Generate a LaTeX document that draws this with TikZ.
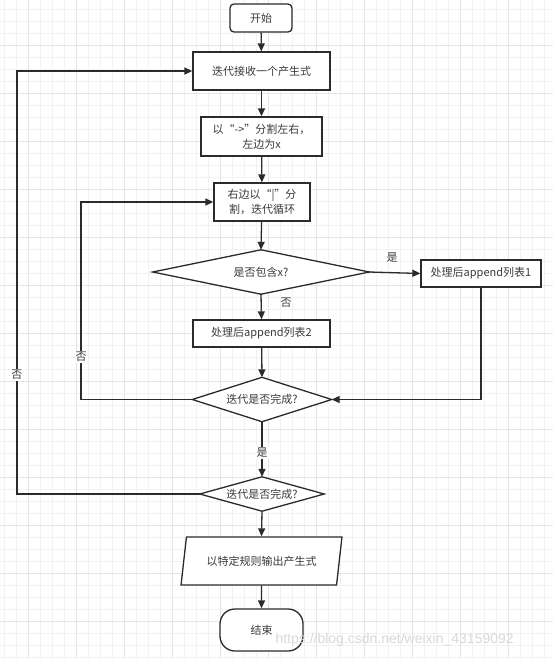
\documentclass[tikz,border=0pt]{standalone}
\usepackage{fontspec}
\setmainfont{Noto Sans CJK SC}
\newfontfamily\wmfont{Liberation Sans}
\usetikzlibrary{shapes.geometric,arrows.meta}
\definecolor{ln}{HTML}{2B2B2B}
\definecolor{tx}{HTML}{3A3A3A}
\begin{document}
\begin{tikzpicture}[x=1pt,y=-1pt,
  every node/.style={font=\fontsize{11}{15}\selectfont, text=tx},
  base/.style={draw=ln, line width=1.3pt, fill=white, inner sep=2pt, align=center},
  boxn/.style={base, rectangle},
  roundn/.style={base, rectangle, rounded corners=#1},
  dec/.style={rectangle, inner sep=0pt, align=center},
  decline/.style={draw=ln, line width=1.3pt, fill=white, line join=miter},
  conn/.style={draw=ln, line width=1.3pt, -{Triangle[length=8pt,width=7pt]}},
  lab/.style={fill=white, inner sep=1pt}]
\useasboundingbox (0,0) rectangle (553,659);
\fill[white] (0,0) rectangle (553,659);
% grid
\foreach \i in {0,12,...,553} \draw[gray!10, line width=0.5pt] (\i+4,0) -- (\i+4,659);
\foreach \j in {0,12,...,659} \draw[gray!10, line width=0.5pt] (0,\j+9) -- (553,\j+9);
\foreach \i in {0,48,...,553} \draw[gray!20, line width=0.6pt] (\i+28,0) -- (\i+28,659);
\foreach \j in {0,48,...,659} \draw[gray!20, line width=0.6pt] (0,\j+45) -- (553,\j+45);

\node[roundn=4pt, minimum width=62pt, minimum height=28pt] (start) at (261,18) {开始};
\node[boxn, minimum width=137pt, minimum height=38pt] (recv) at (261.5,71) {迭代接收一个产生式};
\node[boxn, minimum width=121pt, minimum height=39pt] (split) at (261.5,136.5) {以“->”分割左右，\\左边为x};
\node[boxn, minimum width=96pt, minimum height=38pt] (loop) at (262,202) {右边以“|”分\\割，迭代循环};
\node[dec, minimum width=216pt, minimum height=44pt] (dec1) at (261,272) {};
\node[boxn, minimum width=120pt, minimum height=27pt] (app1) at (481,273.5) {处理后append列表1};
\node[boxn, minimum width=137pt, minimum height=27pt] (app2) at (261.5,333.5) {处理后append列表2};
\node[dec, minimum width=139pt, minimum height=44pt] (dec2) at (262,399.5) {};
\node[dec, minimum width=124pt, minimum height=34pt] (dec3) at (262,494) {};
\node[base, trapezium, trapezium left angle=74, trapezium right angle=106, trapezium stretches=true, minimum width=161pt, minimum height=48pt] (out) at (261.5,561) {以特定规则输出产生式};
\node[roundn=15pt, minimum width=83pt, minimum height=42pt] (end) at (261.5,630) {结束};

\foreach \d in {dec1,dec2,dec3}
  \draw[decline] (\d.north) -- (\d.east) -- (\d.south) -- (\d.west) -- cycle;
\node (t1) at (dec1) {是否包含x?};
\node (t2) at (dec2) {迭代是否完成?};
\node (t3) at (dec3) {迭代是否完成?};

\coordinate (l1) at (81,399.5);
\coordinate (l2) at (17,494);

\draw[conn] (start) -- (recv);
\draw[conn] (recv) -- (split);
\draw[conn] (split) -- (loop);
\draw[conn] (loop) -- (dec1.north);
\draw[conn] (dec1.east) -- (app1.west);
\draw[conn] (dec1.south) -- (app2.north);
\draw[conn] (app2) -- (dec2.north);
\draw[conn] (app1.south) |- (dec2.east);
\draw[conn] (dec2.west) -- (l1) |- (loop.west);
\draw[conn] (dec2.south) -- (dec3.north);
\draw[conn] (dec3.west) -- (l2) |- (recv.west);
\draw[conn] (dec3.south) -- (out.north);
\draw[conn] (out.south) -- (end.north);

\node (yes1) at (392,258) {是};
\node (no1) at (286,303) {否};
\node[lab] (no2) at (81,357) {否};
\node[lab] (yes2) at (262,453) {是};
\node[lab] (no3) at (17,375) {否};

\node[text=gray!30, font=\wmfont\fontsize{14}{16}\selectfont, anchor=west] (wm) at (272,640) {https://blog.csdn.net/weixin\_43159092};
\end{tikzpicture}
\end{document}
